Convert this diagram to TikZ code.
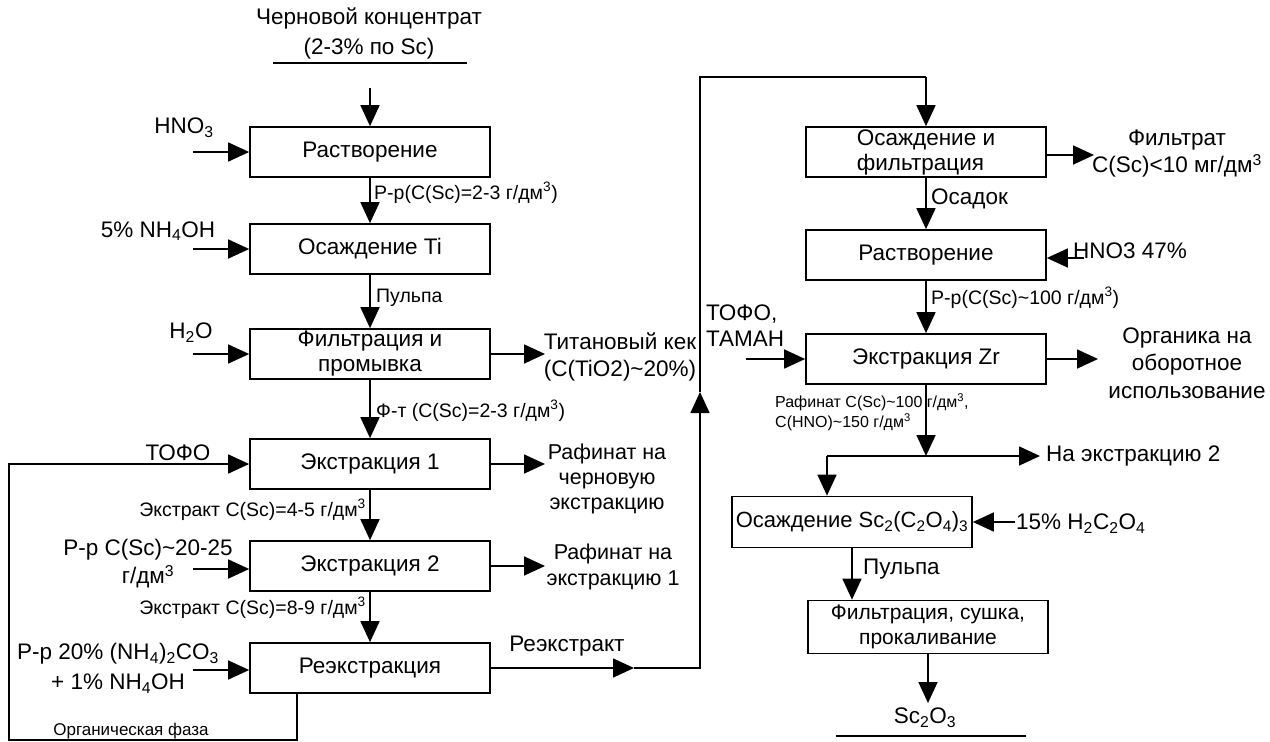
\documentclass[tikz,border=0pt]{standalone}
\usepackage{fontspec}
\setmainfont{Liberation Sans}
\usetikzlibrary{arrows.meta}
\tikzset{
  box/.style={draw, line width=1.7pt, minimum width=240pt, minimum height=50pt,
    inner sep=0pt, font=\fontsize{22.5}{25}\selectfont, align=center},
  big/.style={inner sep=0pt, font=\fontsize{22.5}{27}\selectfont, align=center},
  lbl/.style={inner sep=0pt, font=\fontsize{19.5}{22}\selectfont},
  small/.style={inner sep=0pt, font=\fontsize{16}{20}\selectfont, align=left},
  flow/.style={line width=1.7pt, -{Triangle[length=21pt,width=19pt]}},
  pipe/.style={line width=1.7pt},
}
\newcommand{\gdm}{г/дм\textsuperscript{3}}
\newcommand{\tl}{\textasciitilde}
\begin{document}
\begin{tikzpicture}[x=1pt,y=-1pt]
\fill[white] (0,0) rectangle (1270,742);
\useasboundingbox (0,0) rectangle (1270,742);

% ---------- left column: preparation and extraction ----------
\node[big, font=\fontsize{22.5}{30}\selectfont] (src) at (369,33) {Черновой концентрат\\(2-3\% по Sc)};
\coordinate (u1) at (273,63); \coordinate (u2) at (467,63);
\draw[pipe] (u1) -- (u2);
\coordinate (s0) at (370,88);

\node[box] (b1) at (370,152) {Растворение};
\node[box] (b2) at (370,249) {Осаждение Ti};
\node[box] (b3) at (370,354) {Фильтрация и\\промывка};
\node[box] (b4) at (370,464) {Экстракция 1};
\node[box] (b5) at (370,566) {Экстракция 2};
\node[box] (b6) at (370,668) {Реэкстракция};

\draw[flow] (s0) -- (b1);
\draw[flow] (b1) -- (b2);
\draw[flow] (b2) -- (b3);
\draw[flow] (b3) -- (b4);
\draw[flow] (b4) -- (b5);
\draw[flow] (b5) -- (b6);

\node[lbl, anchor=west] (l1) at (374,193) {Р-р(С(Sc)=2-3 \gdm)};
\node[lbl, anchor=west] (l2) at (376,298) {Пульпа};
\node[lbl, anchor=west] (l3) at (376,411) {Ф-т (С(Sc)=2-3 \gdm)};
\node[lbl, anchor=east] (l4) at (366,510) {Экстракт С(Sc)=4-5 \gdm};
\node[lbl, anchor=east] (l5) at (366,608) {Экстракт С(Sc)=8-9 \gdm};

% reagent feeds
\node[big] (i1) at (184,128) {HNO\textsubscript{3}};
\node[big] (i2) at (158,231) {5\% NH\textsubscript{4}OH};
\node[big] (i3) at (191,333) {H\textsubscript{2}O};
\node[big] (i4) at (178,453) {ТОФО};
\node[big, font=\fontsize{22.5}{28}\selectfont] (i5) at (148,564) {Р-р С(Sc)\tl20-25\\\gdm};
\node[big, font=\fontsize{22.5}{30}\selectfont] (i6) at (118,668) {Р-р 20\% (NH\textsubscript{4})\textsubscript{2}CO\textsubscript{3}\\+ 1\% NH\textsubscript{4}OH};

\coordinate (f1) at (193,152);
\coordinate (f2) at (193,249);
\coordinate (f3) at (193,354);
\coordinate (f5) at (193,569);
\coordinate (f6) at (193,670);
\draw[flow] (f1) -- (f1 -| b1.west);
\draw[flow] (f2) -- (f2 -| b2.west);
\draw[flow] (f3) -- (f3 -| b3.west);
\draw[flow] (f5) -- (f5 -| b5.west);
\draw[flow] (f6) -- (f6 -| b6.west);

% products to the right
\coordinate (o3) at (545,354);
\coordinate (o4) at (545,464);
\coordinate (o5) at (545,566);
\draw[flow] (b3.east) -- (o3);
\draw[flow] (b4.east) -- (o4);
\draw[flow] (b5.east) -- (o5);
\node[big] (t3) at (620,357) {Титановый кек\\(С(TiO2)\tl20\%)};
\node[big, font=\fontsize{21.5}{25}\selectfont] (t4) at (607,479) {Рафинат на\\черновую\\экстракцию};
\node[big, font=\fontsize{21.5}{26}\selectfont] (t5) at (613,567) {Рафинат на\\экстракцию 1};

% organic phase recycled to the first extraction
\coordinate (lp1) at (297,740);
\coordinate (lp2) at (9,740);
\coordinate (lp3) at (9,464);
\draw[flow] (b6.south -| lp1) -- (lp1) -- (lp2) -- (lp3) -- (b4.west);
\node[lbl, font=\fontsize{17}{20}\selectfont] (org) at (131,731) {Органическая фаза};

% strip liquor to the right column
\coordinate (ra) at (634,668);
\coordinate (rx1) at (700,668);
\coordinate (rv) at (700,392);
\coordinate (rx2) at (700,77);
\coordinate (rx3) at (926,77);
\draw[flow] (b6.east) -- (ra);
\draw[flow] (ra) -- (rx1) -- (rv);
\draw[pipe] (rv) -- (rx2) -- (rx3);
\node[big] (rex) at (567,646) {Реэкстракт};

% ---------- right column: purification ----------
\node[box, align=left] (r1) at (926,152) {Осаждение и\\фильтрация};
\node[box] (r2) at (926,255) {Растворение};
\node[box] (r3) at (926,359) {Экстракция Zr};
\node[box, minimum height=51pt, font=\fontsize{22}{25}\selectfont] (r4) at (852,522) {Осаждение Sc\textsubscript{2}(C\textsubscript{2}O\textsubscript{4})\textsubscript{3}};
\node[box, minimum height=53pt, font=\fontsize{21}{25}\selectfont] (r5) at (928,627) {Фильтрация, сушка,\\прокаливание};

\draw[flow] (rx3) -- (r1);
\draw[flow] (r1) -- (r2);
\draw[flow] (r2) -- (r3);

\node[big, anchor=west] (q1) at (931,199) {Осадок};
\node[lbl, anchor=west] (q2) at (931,298) {Р-р(С(Sc)\tl100 \gdm)};

% filtrate
\coordinate (p1) at (1094,155);
\draw[flow] (r1.east |- p1) -- (p1);
\node[big, font=\fontsize{22.5}{27}\selectfont] (fl) at (1177,154) {Фильтрат\\С(Sc)<10 мг/дм\textsuperscript{3}};

% nitric acid feed
\coordinate (h47) at (1084,258);
\draw[flow] (h47) -- (h47 -| r2.east);
\node[big, anchor=south west] (hn) at (1073,259) {HNO3 47\%};

% extractant feed
\node[big, align=left, anchor=west, font=\fontsize{22.5}{26}\selectfont] (tf) at (706,326) {ТОФО,\\ТАМАН};
\coordinate (e3) at (746,359);
\draw[flow] (e3) -- (e3 -| r3.west);

% organic to recycling
\coordinate (p3) at (1098,359);
\draw[flow] (r3.east |- p3) -- (p3);
\node[big, font=\fontsize{22.5}{27.5}\selectfont] (oo) at (1187,363) {Органика на\\оборотное\\использование};

\node[small, anchor=west] (rf) at (775,412) {Рафинат С(Sc)\tl100 \gdm,\\С(HNO)\tl150 \gdm};

% raffinate split
\coordinate (j) at (926,456);
\coordinate (jl) at (827,456);
\coordinate (jr) at (1040,456);
\draw[flow] (r3) -- (j);
\draw[flow] (jl) -- (jr);
\draw[flow] (jl) -- (jl |- r4.north);
\node[big, anchor=west] (ne) at (1046,456) {На экстракцию 2};

% oxalic acid feed
\coordinate (ox) at (1015,522);
\draw[flow] (ox) -- (r4.east);
\node[big, anchor=west] (oxl) at (1016,524) {15\% H\textsubscript{2}C\textsubscript{2}O\textsubscript{4}};

\draw[flow] (r4.south) -- (r4.south |- r5.north);
\node[big, anchor=west] (pp) at (863,569) {Пульпа};

% final product
\coordinate (fin) at (928,703);
\draw[flow] (r5.south) -- (fin);
\node[big] (sc) at (925,718) {Sc\textsubscript{2}O\textsubscript{3}};
\coordinate (w1) at (836,736); \coordinate (w2) at (1026,736);
\draw[pipe] (w1) -- (w2);
\end{tikzpicture}
\end{document}
